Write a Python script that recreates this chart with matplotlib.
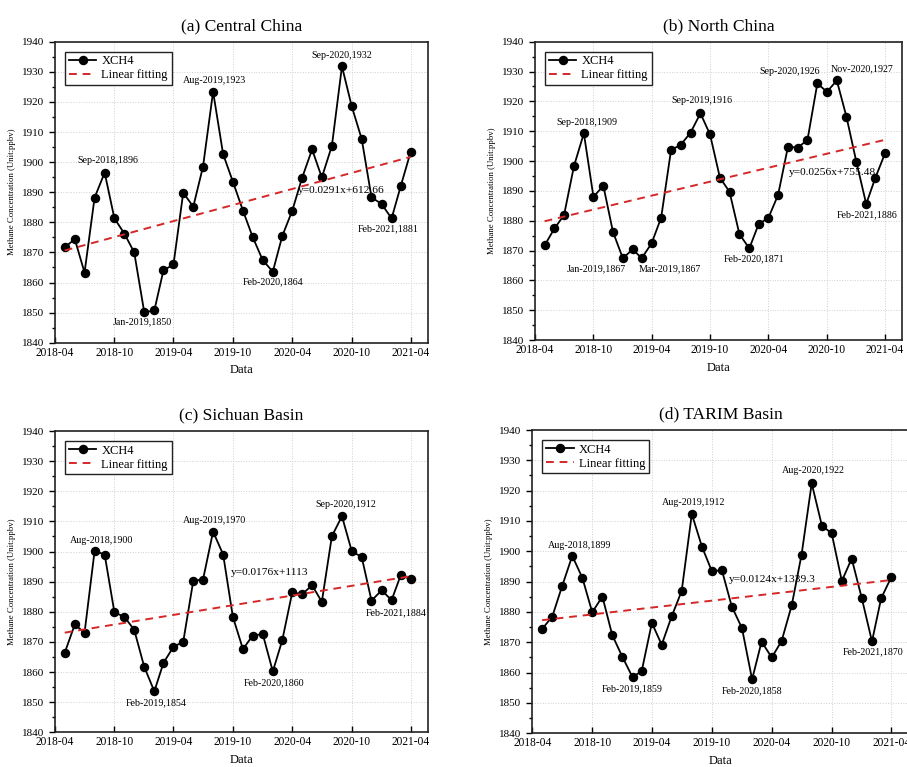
import matplotlib
matplotlib.use("Agg")
import matplotlib.pyplot as plt
import matplotlib.dates as mdates
from matplotlib.ticker import MultipleLocator
import numpy as np
import pandas as pd

plt.rcParams['font.family'] = ['Liberation Serif', 'DejaVu Serif']

# monthly XCH4 means, 2018-05 .. 2021-04
months = pd.date_range("2018-05-01", "2021-04-01", freq="MS")

central_china = [1871.7, 1874.4, 1863.3, 1888.2, 1896.5, 1881.3, 1876.2, 1870.0, 1850.1, 1850.7,
                 1864.0, 1866.0, 1889.8, 1885.2, 1898.5, 1923.4, 1902.6, 1893.5, 1883.9, 1875.1,
                 1867.4, 1863.6, 1875.4, 1883.9, 1894.7, 1904.2, 1894.9, 1905.4, 1931.8, 1918.6,
                 1907.6, 1888.3, 1886.1, 1881.3, 1892.0, 1903.5]
north_china = [1871.7, 1877.4, 1881.9, 1898.3, 1909.3, 1888.0, 1891.7, 1876.3, 1867.4, 1870.4,
               1867.4, 1872.4, 1881.0, 1903.7, 1905.4, 1909.5, 1916.0, 1908.9, 1894.4, 1889.7,
               1875.5, 1870.7, 1878.8, 1881.0, 1888.6, 1904.8, 1904.5, 1907.0, 1926.0, 1923.2,
               1927.0, 1914.9, 1899.8, 1885.6, 1894.2, 1902.6]
sichuan_basin = [1866.4, 1875.8, 1873.0, 1900.2, 1899.0, 1879.8, 1878.3, 1874.0, 1861.7, 1853.6,
                 1863.0, 1868.4, 1870.0, 1890.3, 1890.7, 1906.6, 1899.0, 1878.3, 1867.6, 1872.1,
                 1872.6, 1860.2, 1870.5, 1886.5, 1885.8, 1888.8, 1883.3, 1905.1, 1911.7, 1900.2,
                 1898.1, 1883.7, 1887.1, 1883.9, 1892.1, 1890.8]
tarim_basin = [1874.4, 1878.5, 1888.5, 1898.5, 1891.2, 1879.9, 1885.1, 1872.4, 1865.2, 1858.5,
               1860.5, 1876.4, 1869.2, 1878.7, 1886.9, 1912.3, 1901.5, 1893.5, 1893.7, 1881.8,
               1874.7, 1857.8, 1870.2, 1865.0, 1870.4, 1882.2, 1898.9, 1922.4, 1908.5, 1905.9,
               1890.2, 1897.6, 1884.5, 1870.3, 1884.5, 1891.5]

titles = ["(a) Central China", "(b) North China", "(c) Sichuan Basin", "(d) TARIM Basin"]
equations = ["y=0.0291x+612.66", "y=0.0256x+755.48", "y=0.0176x+1113", "y=0.0124x+1339.3"]

# (index of month, label, dx, dy, ha) for the peak / trough labels
labels_a = [(4, "Sep-2018,1896", 2, 9, "center"), (8, "Jan-2019,1850", -1.5, -7, "center"),
            (15, "Aug-2019,1923", 1, 8, "center"), (21, "Feb-2020,1864", 0, -7.5, "center"),
            (28, "Sep-2020,1932", 0, 8, "center"), (33, "Feb-2021,1881", -2.5, -7.5, "center")]
labels_b = [(4, "Sep-2018,1909", 2, 8, "center"), (8, "Jan-2019,1867", 2, -7.5, "right"),
            (10, "Mar-2019,1867", -2, -7.5, "left"), (16, "Sep-2019,1916", 1, 9, "center"),
            (21, "Feb-2020,1871", 3.5, -7.5, "center"), (28, "Sep-2020,1926", 2, 8.5, "right"),
            (30, "Nov-2020,1927", 18, 8.5, "center"), (33, "Feb-2021,1886", 0.5, -7.5, "center")]
labels_c = [(3, "Aug-2018,1900", 5, 7.5, "center"), (9, "Feb-2019,1854", 1, -8, "center"),
            (15, "Aug-2019,1970", 1, 8, "center"), (21, "Feb-2020,1860", 1, -8.5, "center"),
            (28, "Sep-2020,1912", 3, 8.5, "center"), (33, "Feb-2021,1884", 3.5, -9, "center")]
labels_d = [(3, "Aug-2018,1899", 5.5, 7.5, "center"), (9, "Feb-2019,1859", -0.5, -8, "center"),
            (15, "Aug-2019,1912", 1, 8.5, "center"), (21, "Feb-2020,1858", 0, -8.5, "center"),
            (27, "Aug-2020,1922", 1, 9, "center"), (33, "Feb-2021,1870", 1, -7.5, "center")]

panels = [
    (central_china, labels_a, [55, 41.7, 428.3, 342.7], (0.65, 0.504)),
    (north_china, labels_b, [535, 41.7, 902.3, 340], (0.692, 0.561)),
    (sichuan_basin, labels_c, [55, 431, 428.3, 732.3], (0.471, 0.532)),
    (tarim_basin, labels_d, [532.3, 430, 909, 733.3], (0.523, 0.508)),
]

W, H = 907, 767
fig = plt.figure(figsize=(W / 100, H / 100), dpi=100)

xnum = mdates.date2num(months)

for k, (vals, labels, box, eqpos) in enumerate(panels):
    x0, y0, x1, y1 = box
    ax = fig.add_axes([x0 / W, 1 - y1 / H, (x1 - x0) / W, (y1 - y0) / H])

    ax.plot(months, vals, color="black", lw=1.3, marker="o", ms=5.8, label="XCH4", zorder=3)

    coef = np.polyfit(xnum, vals, 1)
    ax.plot(months, np.polyval(coef, xnum), color="#d62728", ls=(0, (4, 3)), lw=1.4,
            label="Linear fitting", zorder=4)

    for i, txt, dx, dy, ha in labels:
        ax.annotate(txt, (months[i], vals[i]), xytext=(dx, dy), textcoords="offset points",
                    ha=ha, va="center", fontsize=7.2)

    ax.text(eqpos[0], eqpos[1], equations[k], transform=ax.transAxes, fontsize=8.2,
            ha="left", va="center", zorder=5)

    ax.set_ylim(1840, 1940)
    ax.set_xlim(pd.Timestamp("2018-04-01"), pd.Timestamp("2021-05-25"))
    ax.yaxis.set_major_locator(MultipleLocator(10))
    ax.yaxis.set_minor_locator(MultipleLocator(5))
    ax.xaxis.set_major_locator(mdates.MonthLocator(bymonth=[4, 10]))
    ax.xaxis.set_major_formatter(mdates.DateFormatter("%Y-%m"))
    ax.tick_params(axis="x", direction="in", length=4, width=1, labelsize=8.3, pad=3)
    ax.tick_params(axis="y", which="major", direction="out", length=4.5, width=1, labelsize=8)
    ax.tick_params(axis="y", which="minor", direction="out", length=2.5, width=1)
    ax.grid(True, which="major", color="#cfcfcf", ls=":", lw=0.7)
    for s in ax.spines.values():
        s.set_linewidth(1.2)
        s.set_color("#222222")

    ax.set_xlabel("Data", fontsize=9, labelpad=4)
    ax.set_ylabel("Methane Concentration (Unit:ppbv)", fontsize=6.3, labelpad=4)
    ax.set_title(titles[k], fontsize=12.6, pad=8)

    leg = ax.legend(loc="upper left", fontsize=9, fancybox=False, framealpha=1,
                    edgecolor="#222222", handlelength=2.2, borderpad=0.3, labelspacing=0.15,
                    borderaxespad=0.8, handletextpad=0.4)
    leg.get_frame().set_linewidth(1.0)

fig.savefig("out.png", dpi=100)
